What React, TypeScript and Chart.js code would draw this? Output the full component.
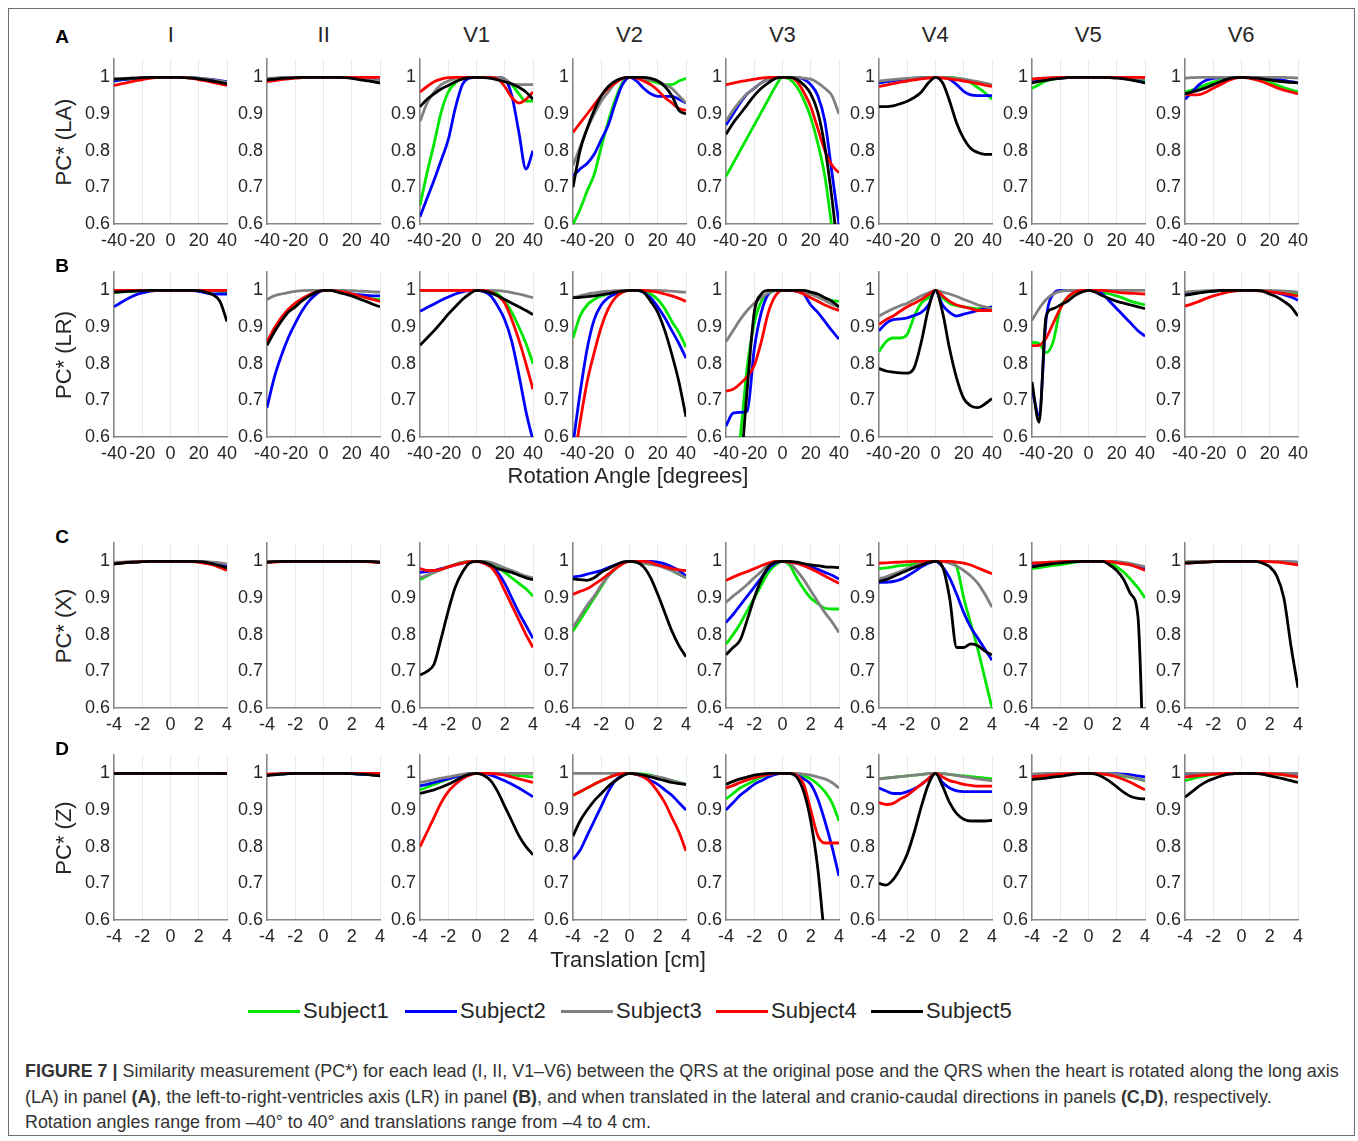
import React, { useEffect, useRef } from "react";
import { Chart, registerables } from "chart.js";

Chart.register(...registerables);

const FONT = "'Liberation Sans', Arial, Helvetica, sans-serif";
Chart.defaults.font.family = FONT;

// ---------- axes / labels ----------
const rotX = [-40, -35, -30, -25, -20, -15, -10, -5, 0, 5, 10, 15, 20, 25, 30, 35, 40];
const transX = [-4, -3.5, -3, -2.5, -2, -1.5, -1, -0.5, 0, 0.5, 1, 1.5, 2, 2.5, 3, 3.5, 4];
const rotTicks = [-40, -20, 0, 20, 40];
const transTicks = [-4, -2, 0, 2, 4];
const yTicks = [0.6, 0.7, 0.8, 0.9, 1];
const leads = ["I", "II", "V1", "V2", "V3", "V4", "V5", "V6"];
const subjects = ["Subject1", "Subject2", "Subject3", "Subject4", "Subject5"];
const colors = ["#00e600", "#0000ff", "#808080", "#ff0000", "#000000"];

// ---------- Panel A: rotation about long axis (LA) ----------
// each: [Subject1, Subject2, Subject3, Subject4, Subject5], values at rotX
const A_I = [
  [0.990, 0.993, 0.995, 0.997, 0.998, 0.999, 1, 1, 1, 1, 1, 0.999, 0.997, 0.995, 0.992, 0.989, 0.985],
  [0.990, 0.993, 0.995, 0.997, 0.998, 0.999, 1, 1, 1, 1, 1, 0.999, 0.998, 0.996, 0.994, 0.991, 0.988],
  [0.995, 0.996, 0.997, 0.998, 0.999, 1, 1, 1, 1, 1, 1, 0.999, 0.998, 0.996, 0.993, 0.990, 0.987],
  [0.978, 0.982, 0.986, 0.990, 0.994, 0.997, 0.999, 1, 1, 1, 0.999, 0.997, 0.994, 0.990, 0.986, 0.982, 0.978],
  [0.995, 0.996, 0.997, 0.998, 0.999, 1, 1, 1, 1, 1, 0.999, 0.998, 0.996, 0.993, 0.990, 0.986, 0.982],
];
const A_II = [
  [0.995, 0.997, 0.998, 0.999, 1, 1, 1, 1, 1, 1, 1, 1, 0.999, 0.998, 0.996, 0.994, 0.990],
  [0.995, 0.997, 0.998, 0.999, 1, 1, 1, 1, 1, 1, 1, 1, 0.999, 0.998, 0.997, 0.995, 0.990],
  [0.997, 0.998, 0.999, 1, 1, 1, 1, 1, 1, 1, 1, 1, 0.999, 0.998, 0.996, 0.993, 0.990],
  [0.988, 0.991, 0.994, 0.996, 0.998, 0.999, 1, 1, 1, 1, 1, 1, 1, 1, 1, 1, 1],
  [0.993, 0.995, 0.997, 0.998, 0.999, 1, 1, 1, 1, 1, 1, 0.999, 0.997, 0.994, 0.991, 0.988, 0.984],
];
const A_V1 = [
  [0.65, 0.74, 0.82, 0.905, 0.96, 0.985, 0.997, 1, 1, 1, 1, 1, 0.995, 0.98, 0.955, 0.935, 0.935],
  [0.62, 0.67, 0.72, 0.774, 0.83, 0.916, 0.98, 0.998, 1, 1, 1, 1, 0.995, 0.95, 0.85, 0.75, 0.80],
  [0.88, 0.93, 0.96, 0.98, 0.99, 0.997, 1, 1, 1, 1, 1, 1, 0.995, 0.982, 0.98, 0.98, 0.98],
  [0.96, 0.975, 0.988, 0.995, 0.999, 1, 1, 1, 1, 1, 1, 0.995, 0.975, 0.945, 0.93, 0.94, 0.96],
  [0.92, 0.94, 0.955, 0.968, 0.978, 0.988, 0.995, 0.999, 1, 0.999, 0.997, 0.993, 0.988, 0.982, 0.973, 0.96, 0.94],
];
const A_V2 = [
  [0.60, 0.64, 0.69, 0.735, 0.81, 0.88, 0.94, 0.985, 1, 1, 0.995, 0.99, 0.985, 0.98, 0.98, 0.99, 0.997],
  [0.73, 0.75, 0.765, 0.79, 0.83, 0.87, 0.93, 0.98, 1, 0.99, 0.97, 0.955, 0.948, 0.948, 0.948, 0.94, 0.93],
  [0.76, 0.81, 0.86, 0.90, 0.935, 0.96, 0.985, 0.997, 1, 1, 0.997, 0.993, 0.99, 0.98, 0.97, 0.95, 0.93],
  [0.85, 0.875, 0.90, 0.925, 0.95, 0.97, 0.985, 0.997, 1, 0.998, 0.99, 0.98, 0.965, 0.945, 0.93, 0.915, 0.91],
  [0.70, 0.80, 0.86, 0.91, 0.95, 0.975, 0.99, 0.998, 1, 1, 1, 0.997, 0.99, 0.975, 0.95, 0.91, 0.90],
];
const A_V3 = [
  [0.73, 0.765, 0.80, 0.835, 0.87, 0.905, 0.94, 0.975, 1, 0.995, 0.975, 0.94, 0.89, 0.82, 0.73, 0.59, 0.45],
  [0.87, 0.90, 0.93, 0.955, 0.97, 0.985, 0.995, 1, 1, 1, 1, 0.995, 0.98, 0.95, 0.88, 0.74, 0.60],
  [0.88, 0.91, 0.935, 0.955, 0.97, 0.985, 0.995, 1, 1, 1, 1, 0.998, 0.995, 0.985, 0.97, 0.95, 0.90],
  [0.98, 0.984, 0.988, 0.992, 0.995, 0.998, 1, 1, 1, 1, 0.99, 0.96, 0.92, 0.86, 0.80, 0.76, 0.74],
  [0.845, 0.875, 0.90, 0.925, 0.95, 0.97, 0.985, 0.997, 1, 1, 0.995, 0.98, 0.955, 0.905, 0.81, 0.67, 0.50],
];
const A_V4 = [
  [0.985, 0.988, 0.991, 0.994, 0.996, 0.998, 0.999, 1, 1, 1, 1, 0.998, 0.994, 0.985, 0.972, 0.958, 0.94],
  [0.985, 0.988, 0.991, 0.994, 0.996, 0.998, 0.999, 1, 1, 1, 0.995, 0.98, 0.962, 0.952, 0.95, 0.95, 0.95],
  [0.99, 0.992, 0.994, 0.996, 0.997, 0.998, 0.999, 1, 1, 1, 0.999, 0.997, 0.995, 0.992, 0.988, 0.984, 0.98],
  [0.975, 0.979, 0.983, 0.987, 0.99, 0.993, 0.996, 0.998, 1, 0.998, 0.996, 0.993, 0.99, 0.987, 0.983, 0.979, 0.975],
  [0.92, 0.92, 0.922, 0.928, 0.935, 0.945, 0.96, 0.985, 1, 0.985, 0.935, 0.875, 0.833, 0.806, 0.795, 0.79, 0.79],
];
const A_V5 = [
  [0.97, 0.98, 0.99, 0.995, 0.998, 1, 1, 1, 1, 1, 1, 1, 0.999, 0.998, 0.996, 0.993, 0.99],
  [0.99, 0.993, 0.995, 0.997, 0.998, 0.999, 1, 1, 1, 1, 1, 1, 0.999, 0.997, 0.994, 0.99, 0.985],
  [0.995, 0.997, 0.998, 0.999, 1, 1, 1, 1, 1, 1, 1, 1, 1, 0.999, 0.998, 0.997, 0.996],
  [0.995, 0.997, 0.998, 0.999, 1, 1, 1, 1, 1, 1, 1, 1, 1, 1, 1, 1, 1],
  [0.985, 0.989, 0.992, 0.995, 0.997, 0.999, 1, 1, 1, 1, 1, 0.999, 0.998, 0.996, 0.993, 0.989, 0.985],
];
const A_V6 = [
  [0.96, 0.965, 0.972, 0.98, 0.987, 0.992, 0.996, 0.999, 1, 0.999, 0.996, 0.992, 0.986, 0.979, 0.972, 0.966, 0.96],
  [0.94, 0.96, 0.98, 0.992, 0.997, 0.999, 1, 1, 1, 1, 1, 0.999, 0.997, 0.995, 0.992, 0.988, 0.985],
  [0.998, 0.999, 1, 1, 1, 1, 1, 1, 1, 1, 1, 1, 1, 1, 1, 0.999, 0.998],
  [0.955, 0.952, 0.953, 0.96, 0.97, 0.98, 0.99, 0.997, 1, 0.998, 0.994, 0.988, 0.98, 0.972, 0.965, 0.96, 0.955],
  [0.955, 0.96, 0.965, 0.972, 0.98, 0.988, 0.995, 0.999, 1, 0.999, 0.998, 0.996, 0.993, 0.99, 0.988, 0.986, 0.985],
];

// ---------- Panel B: rotation about left-to-right axis (LR) ----------
const B_I = [
  [0.995, 0.996, 0.997, 0.998, 0.999, 1, 1, 1, 1, 1, 1, 1, 1, 1, 0.999, 0.997, 0.995],
  [0.955, 0.967, 0.978, 0.987, 0.993, 0.997, 0.999, 1, 1, 1, 1, 0.999, 0.997, 0.993, 0.99, 0.99, 0.99],
  [0.999, 1, 1, 1, 1, 1, 1, 1, 1, 1, 1, 1, 1, 1, 1, 1, 0.999],
  [1, 1, 1, 1, 1, 1, 1, 1, 1, 1, 1, 1, 1, 1, 1, 1, 1],
  [0.995, 0.996, 0.997, 0.998, 0.999, 1, 1, 1, 1, 1, 1, 1, 0.999, 0.995, 0.988, 0.97, 0.915],
];
const B_II = [
  [0.855, 0.89, 0.92, 0.945, 0.962, 0.976, 0.987, 0.995, 1, 1, 0.998, 0.995, 0.99, 0.985, 0.98, 0.977, 0.975],
  [0.68, 0.76, 0.82, 0.87, 0.91, 0.945, 0.972, 0.99, 1, 1, 0.998, 0.995, 0.99, 0.988, 0.986, 0.985, 0.985],
  [0.975, 0.985, 0.99, 0.994, 0.997, 0.999, 1, 1, 1, 1, 1, 1, 0.999, 0.998, 0.997, 0.996, 0.995],
  [0.86, 0.895, 0.925, 0.948, 0.965, 0.978, 0.988, 0.995, 1, 1, 0.998, 0.995, 0.99, 0.985, 0.98, 0.975, 0.97],
  [0.85, 0.885, 0.915, 0.94, 0.955, 0.972, 0.985, 0.995, 1, 1, 0.995, 0.99, 0.985, 0.977, 0.97, 0.962, 0.955],
];
const B_V1 = [
  [1, 1, 1, 1, 1, 1, 1, 1, 1, 1, 0.997, 0.99, 0.97, 0.94, 0.90, 0.855, 0.80],
  [0.943, 0.953, 0.963, 0.973, 0.982, 0.99, 0.996, 0.999, 1, 0.997, 0.985, 0.957, 0.92, 0.86, 0.77, 0.67, 0.59],
  [1, 1, 1, 1, 1, 1, 1, 1, 1, 1, 1, 0.999, 0.997, 0.994, 0.99, 0.985, 0.98],
  [1, 1, 1, 1, 1, 1, 1, 1, 1, 1, 0.995, 0.985, 0.965, 0.92, 0.865, 0.80, 0.73],
  [0.85, 0.87, 0.89, 0.912, 0.935, 0.955, 0.975, 0.99, 1, 0.998, 0.993, 0.985, 0.975, 0.965, 0.955, 0.945, 0.934],
];
const B_V2 = [
  [0.87, 0.93, 0.96, 0.975, 0.985, 0.99, 0.995, 0.999, 1, 1, 1, 0.99, 0.975, 0.95, 0.915, 0.885, 0.845],
  [0.58, 0.72, 0.84, 0.92, 0.96, 0.98, 0.99, 0.998, 1, 1, 0.995, 0.98, 0.955, 0.925, 0.89, 0.855, 0.815],
  [0.98, 0.985, 0.99, 0.993, 0.996, 0.998, 0.999, 1, 1, 1, 1, 1, 1, 0.999, 0.998, 0.996, 0.995],
  [0.52, 0.64, 0.75, 0.83, 0.90, 0.95, 0.98, 0.995, 1, 1, 1, 0.998, 0.995, 0.99, 0.985, 0.978, 0.97],
  [0.98, 0.981, 0.983, 0.985, 0.988, 0.991, 0.995, 0.998, 1, 1, 0.995, 0.97, 0.94, 0.89, 0.825, 0.75, 0.655],
];
const B_V3 = [
  [0.40, 0.50, 0.60, 0.79, 0.91, 0.97, 0.99, 1, 1, 1, 1, 0.998, 0.99, 0.985, 0.978, 0.972, 0.97],
  [0.63, 0.665, 0.667, 0.67, 0.84, 0.94, 0.99, 1, 1, 1, 0.998, 0.99, 0.96, 0.94, 0.915, 0.89, 0.867],
  [0.86, 0.89, 0.92, 0.945, 0.965, 0.98, 0.993, 0.999, 1, 1, 1, 0.997, 0.99, 0.982, 0.972, 0.962, 0.955],
  [0.725, 0.73, 0.745, 0.765, 0.795, 0.86, 0.94, 0.985, 1, 1, 0.997, 0.99, 0.98, 0.97, 0.96, 0.952, 0.945],
  [0.30, 0.40, 0.50, 0.73, 0.94, 0.99, 1, 1, 1, 1, 1, 1, 0.995, 0.99, 0.98, 0.97, 0.955],
];
const B_V4 = [
  [0.833, 0.86, 0.87, 0.87, 0.88, 0.93, 0.965, 0.98, 1, 0.98, 0.965, 0.958, 0.955, 0.952, 0.95, 0.952, 0.955],
  [0.89, 0.91, 0.92, 0.922, 0.925, 0.932, 0.94, 0.96, 1, 0.96, 0.94, 0.93, 0.935, 0.94, 0.945, 0.95, 0.955],
  [0.93, 0.94, 0.95, 0.958, 0.965, 0.975, 0.985, 0.993, 1, 0.995, 0.99, 0.983, 0.975, 0.968, 0.96, 0.955, 0.95],
  [0.907, 0.92, 0.93, 0.943, 0.955, 0.965, 0.975, 0.988, 1, 0.985, 0.97, 0.96, 0.955, 0.95, 0.945, 0.945, 0.945],
  [0.787, 0.78, 0.777, 0.775, 0.774, 0.79, 0.86, 0.95, 1, 0.94, 0.84, 0.76, 0.705, 0.685, 0.68, 0.69, 0.705],
];
const B_V5 = [
  [0.858, 0.855, 0.83, 0.86, 0.95, 0.98, 0.995, 1, 1, 1, 0.995, 0.99, 0.985, 0.978, 0.97, 0.965, 0.96],
  [0.73, 0.66, 0.92, 0.99, 1, 1, 1, 1, 1, 1, 0.99, 0.97, 0.95, 0.93, 0.91, 0.89, 0.875],
  [0.918, 0.95, 0.975, 0.99, 0.997, 1, 1, 1, 1, 1, 1, 1, 1, 1, 1, 1, 1],
  [0.849, 0.85, 0.87, 0.91, 0.95, 0.98, 0.995, 1, 1, 1, 1, 0.998, 0.995, 0.993, 0.992, 0.991, 0.99],
  [0.75, 0.64, 0.93, 0.95, 0.96, 0.97, 0.985, 0.995, 1, 0.995, 0.985, 0.977, 0.97, 0.965, 0.96, 0.955, 0.95],
];
const B_V6 = [
  [0.99, 0.992, 0.994, 0.996, 0.998, 0.999, 1, 1, 1, 1, 1, 0.999, 0.998, 0.996, 0.994, 0.992, 0.99],
  [0.99, 0.993, 0.995, 0.997, 0.998, 0.999, 1, 1, 1, 1, 1, 0.999, 0.997, 0.993, 0.988, 0.982, 0.973],
  [0.995, 0.997, 0.998, 0.999, 1, 1, 1, 1, 1, 1, 1, 1, 1, 0.999, 0.998, 0.997, 0.995],
  [0.957, 0.963, 0.97, 0.978, 0.985, 0.99, 0.995, 0.998, 1, 1, 0.999, 0.998, 0.996, 0.994, 0.991, 0.988, 0.985],
  [0.986, 0.99, 0.993, 0.996, 0.998, 1, 1, 1, 1, 1, 1, 0.998, 0.99, 0.982, 0.97, 0.955, 0.93],
];

// ---------- Panel C: lateral translation (X), values at transX ----------
const C_I = [
  [0.995, 0.996, 0.997, 0.998, 0.999, 1, 1, 1, 1, 1, 1, 1, 0.999, 0.997, 0.994, 0.99, 0.985],
  [0.995, 0.996, 0.997, 0.998, 0.999, 1, 1, 1, 1, 1, 1, 1, 0.999, 0.998, 0.996, 0.993, 0.99],
  [0.997, 0.998, 0.999, 1, 1, 1, 1, 1, 1, 1, 1, 1, 1, 0.999, 0.998, 0.996, 0.993],
  [0.993, 0.995, 0.997, 0.998, 0.999, 1, 1, 1, 1, 1, 1, 0.999, 0.997, 0.994, 0.99, 0.983, 0.975],
  [0.993, 0.995, 0.997, 0.998, 0.999, 1, 1, 1, 1, 1, 1, 1, 0.999, 0.997, 0.993, 0.988, 0.982],
];
const C_II = [
  [0.998, 0.999, 1, 1, 1, 1, 1, 1, 1, 1, 1, 1, 1, 1, 1, 0.999, 0.998],
  [0.998, 0.999, 1, 1, 1, 1, 1, 1, 1, 1, 1, 1, 1, 1, 1, 0.999, 0.998],
  [1, 1, 1, 1, 1, 1, 1, 1, 1, 1, 1, 1, 1, 1, 1, 1, 1],
  [0.997, 0.998, 0.999, 1, 1, 1, 1, 1, 1, 1, 1, 1, 1, 1, 0.999, 0.998, 0.997],
  [0.998, 0.999, 1, 1, 1, 1, 1, 1, 1, 1, 1, 1, 1, 1, 1, 0.999, 0.997],
];
const C_V1 = [
  [0.95, 0.96, 0.97, 0.978, 0.985, 0.992, 0.997, 1, 1, 1, 0.995, 0.985, 0.97, 0.955, 0.94, 0.925, 0.905],
  [0.97, 0.972, 0.975, 0.98, 0.985, 0.99, 0.995, 0.999, 1, 0.998, 0.99, 0.97, 0.94, 0.90, 0.86, 0.825, 0.79],
  [0.955, 0.962, 0.97, 0.978, 0.985, 0.992, 0.997, 1, 1, 1, 0.997, 0.99, 0.982, 0.975, 0.967, 0.96, 0.955],
  [0.98, 0.975, 0.975, 0.978, 0.985, 0.99, 0.995, 0.999, 1, 0.995, 0.985, 0.96, 0.92, 0.88, 0.84, 0.80, 0.765],
  [0.69, 0.70, 0.72, 0.79, 0.865, 0.93, 0.97, 0.995, 1, 0.998, 0.99, 0.98, 0.975, 0.97, 0.962, 0.955, 0.95],
];
const C_V2 = [
  [0.81, 0.84, 0.87, 0.90, 0.93, 0.96, 0.98, 0.995, 1, 0.998, 0.995, 0.993, 0.99, 0.985, 0.975, 0.965, 0.955],
  [0.957, 0.96, 0.965, 0.97, 0.975, 0.983, 0.99, 0.997, 1, 1, 1, 1, 0.998, 0.993, 0.985, 0.975, 0.96],
  [0.82, 0.85, 0.88, 0.905, 0.935, 0.96, 0.98, 0.995, 1, 0.998, 0.995, 0.992, 0.988, 0.982, 0.975, 0.965, 0.955],
  [0.91, 0.918, 0.925, 0.937, 0.95, 0.965, 0.98, 0.993, 1, 1, 1, 0.997, 0.99, 0.985, 0.98, 0.977, 0.975],
  [0.952, 0.95, 0.948, 0.955, 0.97, 0.98, 0.99, 0.998, 1, 0.998, 0.985, 0.955, 0.91, 0.86, 0.81, 0.77, 0.74],
];
const C_V3 = [
  [0.774, 0.80, 0.83, 0.865, 0.90, 0.935, 0.97, 0.99, 1, 0.99, 0.955, 0.925, 0.90, 0.885, 0.872, 0.87, 0.87],
  [0.833, 0.855, 0.88, 0.905, 0.93, 0.955, 0.98, 0.995, 1, 0.998, 0.995, 0.99, 0.985, 0.978, 0.97, 0.962, 0.952],
  [0.888, 0.905, 0.92, 0.937, 0.955, 0.972, 0.99, 0.998, 1, 0.995, 0.975, 0.95, 0.92, 0.89, 0.86, 0.835, 0.806],
  [0.948, 0.957, 0.965, 0.972, 0.98, 0.988, 0.995, 1, 1, 0.998, 0.995, 0.988, 0.98, 0.97, 0.96, 0.95, 0.94],
  [0.745, 0.765, 0.785, 0.84, 0.90, 0.95, 0.985, 0.998, 1, 1, 0.998, 0.994, 0.99, 0.988, 0.985, 0.984, 0.983],
];
const C_V4 = [
  [0.98, 0.982, 0.985, 0.988, 0.99, 0.993, 0.996, 0.999, 1, 1, 1, 0.985, 0.90, 0.83, 0.76, 0.68, 0.60],
  [0.943, 0.943, 0.945, 0.95, 0.96, 0.972, 0.985, 0.995, 1, 0.985, 0.955, 0.91, 0.86, 0.82, 0.79, 0.76, 0.73],
  [0.952, 0.958, 0.965, 0.972, 0.98, 0.987, 0.993, 0.998, 1, 0.999, 0.995, 0.987, 0.975, 0.96, 0.94, 0.91, 0.875],
  [0.995, 0.996, 0.997, 0.998, 0.999, 1, 1, 1, 1, 1, 1, 0.998, 0.995, 0.99, 0.982, 0.974, 0.966],
  [0.945, 0.95, 0.958, 0.967, 0.975, 0.983, 0.99, 0.997, 1, 0.985, 0.90, 0.765, 0.765, 0.775, 0.77, 0.755, 0.745],
];
const C_V5 = [
  [0.98, 0.983, 0.986, 0.989, 0.991, 0.994, 0.997, 0.999, 1, 1, 1, 0.995, 0.985, 0.97, 0.95, 0.928, 0.90],
  [0.99, 0.992, 0.994, 0.996, 0.998, 0.999, 1, 1, 1, 1, 1, 1, 0.998, 0.995, 0.99, 0.985, 0.98],
  [0.995, 0.996, 0.997, 0.998, 0.999, 1, 1, 1, 1, 1, 1, 1, 0.999, 0.997, 0.994, 0.99, 0.985],
  [0.995, 0.996, 0.997, 0.998, 0.999, 1, 1, 1, 1, 1, 1, 0.999, 0.996, 0.993, 0.99, 0.983, 0.975],
  [0.985, 0.988, 0.991, 0.994, 0.996, 0.998, 0.999, 1, 1, 1, 1, 0.99, 0.975, 0.95, 0.91, 0.85, 0.30],
];
const C_V6 = [
  [0.998, 0.999, 1, 1, 1, 1, 1, 1, 1, 1, 1, 1, 1, 0.999, 0.998, 0.997, 0.996],
  [0.997, 0.998, 0.999, 1, 1, 1, 1, 1, 1, 1, 1, 1, 1, 1, 0.999, 0.998, 0.997],
  [0.998, 0.999, 1, 1, 1, 1, 1, 1, 1, 1, 1, 1, 1, 1, 1, 0.999, 0.998],
  [0.995, 0.996, 0.997, 0.998, 0.999, 1, 1, 1, 1, 1, 1, 1, 0.999, 0.998, 0.996, 0.993, 0.99],
  [0.995, 0.996, 0.997, 0.998, 0.999, 1, 1, 1, 1, 1, 1, 0.995, 0.985, 0.96, 0.90, 0.77, 0.655],
];

// ---------- Panel D: cranio-caudal translation (Z), values at transX ----------
const D_I = [
  [1, 1, 1, 1, 1, 1, 1, 1, 1, 1, 1, 1, 1, 1, 1, 1, 1],
  [1, 1, 1, 1, 1, 1, 1, 1, 1, 1, 1, 1, 1, 1, 1, 1, 1],
  [1, 1, 1, 1, 1, 1, 1, 1, 1, 1, 1, 1, 1, 1, 1, 1, 1],
  [1, 1, 1, 1, 1, 1, 1, 1, 1, 1, 1, 1, 1, 1, 1, 1, 1],
  [0.999, 1, 1, 1, 1, 1, 1, 1, 1, 1, 1, 1, 1, 1, 1, 1, 0.999],
];
const D_II = [
  [0.995, 0.997, 0.998, 0.999, 1, 1, 1, 1, 1, 1, 1, 1, 0.999, 0.998, 0.997, 0.996, 0.995],
  [0.995, 0.997, 0.998, 0.999, 1, 1, 1, 1, 1, 1, 1, 1, 0.999, 0.998, 0.997, 0.996, 0.995],
  [0.998, 0.999, 1, 1, 1, 1, 1, 1, 1, 1, 1, 1, 1, 1, 1, 0.999, 0.998],
  [0.997, 0.998, 0.999, 1, 1, 1, 1, 1, 1, 1, 1, 1, 1, 1, 1, 1, 1],
  [0.994, 0.996, 0.998, 0.999, 1, 1, 1, 1, 1, 1, 1, 1, 0.999, 0.998, 0.997, 0.995, 0.993],
];
const D_V1 = [
  [0.955, 0.962, 0.97, 0.977, 0.984, 0.99, 0.995, 0.999, 1, 1, 1, 0.999, 0.998, 0.996, 0.994, 0.992, 0.99],
  [0.966, 0.97, 0.975, 0.98, 0.985, 0.99, 0.995, 0.999, 1, 0.999, 0.995, 0.988, 0.98, 0.97, 0.96, 0.948, 0.936],
  [0.975, 0.979, 0.983, 0.987, 0.99, 0.994, 0.997, 0.999, 1, 1, 1, 1, 1, 1, 1, 1, 1],
  [0.80, 0.84, 0.88, 0.92, 0.95, 0.97, 0.985, 0.995, 1, 1, 1, 0.998, 0.995, 0.99, 0.985, 0.98, 0.975],
  [0.945, 0.95, 0.955, 0.962, 0.97, 0.98, 0.99, 0.997, 1, 0.995, 0.98, 0.95, 0.91, 0.87, 0.83, 0.80, 0.778],
];
const D_V2 = [
  [0.94, 0.95, 0.96, 0.97, 0.98, 0.988, 0.995, 0.999, 1, 1, 0.998, 0.995, 0.99, 0.985, 0.98, 0.975, 0.97],
  [0.765, 0.79, 0.83, 0.87, 0.91, 0.95, 0.98, 0.995, 1, 0.997, 0.99, 0.98, 0.97, 0.955, 0.94, 0.92, 0.90],
  [1, 1, 1, 1, 1, 1, 1, 1, 1, 1, 0.995, 0.993, 0.99, 0.986, 0.98, 0.975, 0.97],
  [0.94, 0.95, 0.96, 0.97, 0.98, 0.988, 0.995, 0.999, 1, 0.997, 0.99, 0.975, 0.95, 0.92, 0.88, 0.84, 0.788],
  [0.829, 0.87, 0.90, 0.925, 0.945, 0.965, 0.98, 0.993, 1, 0.998, 0.995, 0.99, 0.985, 0.98, 0.975, 0.972, 0.97],
];
const D_V3 = [
  [0.93, 0.945, 0.96, 0.97, 0.98, 0.99, 0.995, 0.999, 1, 1, 0.998, 0.993, 0.985, 0.97, 0.95, 0.92, 0.87],
  [0.90, 0.92, 0.94, 0.955, 0.97, 0.98, 0.99, 0.997, 1, 1, 0.995, 0.985, 0.97, 0.93, 0.87, 0.80, 0.72],
  [0.96, 0.967, 0.975, 0.982, 0.988, 0.993, 0.997, 0.999, 1, 1, 1, 0.998, 0.995, 0.99, 0.985, 0.975, 0.96],
  [0.96, 0.967, 0.975, 0.982, 0.988, 0.993, 0.997, 0.999, 1, 1, 0.995, 0.97, 0.90, 0.83, 0.81, 0.81, 0.81],
  [0.97, 0.978, 0.985, 0.99, 0.995, 0.998, 1, 1, 1, 1, 0.99, 0.95, 0.87, 0.74, 0.55, 0.45, 0.35],
];
const D_V4 = [
  [0.985, 0.987, 0.989, 0.991, 0.993, 0.995, 0.997, 0.999, 1, 0.999, 0.997, 0.995, 0.993, 0.991, 0.989, 0.987, 0.985],
  [0.96, 0.952, 0.945, 0.945, 0.95, 0.958, 0.97, 0.985, 1, 0.975, 0.96, 0.952, 0.95, 0.95, 0.95, 0.95, 0.95],
  [0.985, 0.987, 0.989, 0.991, 0.993, 0.995, 0.997, 0.999, 1, 0.999, 0.997, 0.994, 0.991, 0.988, 0.985, 0.982, 0.98],
  [0.92, 0.915, 0.918, 0.93, 0.94, 0.955, 0.97, 0.985, 1, 0.99, 0.98, 0.975, 0.97, 0.967, 0.965, 0.965, 0.965],
  [0.70, 0.695, 0.71, 0.74, 0.78, 0.84, 0.91, 0.97, 1, 0.965, 0.92, 0.89, 0.875, 0.87, 0.87, 0.87, 0.872],
];
const D_V5 = [
  [0.985, 0.988, 0.99, 0.993, 0.995, 0.997, 0.999, 1, 1, 1, 0.999, 0.997, 0.995, 0.992, 0.989, 0.985, 0.98],
  [0.995, 0.996, 0.997, 0.998, 0.999, 1, 1, 1, 1, 1, 1, 1, 0.999, 0.998, 0.996, 0.993, 0.99],
  [0.998, 0.999, 1, 1, 1, 1, 1, 1, 1, 1, 1, 0.999, 0.997, 0.994, 0.99, 0.985, 0.98],
  [0.99, 0.992, 0.994, 0.996, 0.998, 0.999, 1, 1, 1, 1, 0.998, 0.995, 0.99, 0.983, 0.975, 0.965, 0.955],
  [0.983, 0.985, 0.987, 0.99, 0.992, 0.995, 0.998, 1, 1, 0.998, 0.99, 0.978, 0.963, 0.948, 0.937, 0.932, 0.93],
];
const D_V6 = [
  [0.98, 0.985, 0.99, 0.994, 0.997, 0.999, 1, 1, 1, 1, 1, 1, 0.999, 0.998, 0.996, 0.993, 0.99],
  [0.998, 0.999, 1, 1, 1, 1, 1, 1, 1, 1, 1, 1, 1, 1, 1, 1, 1],
  [1, 1, 1, 1, 1, 1, 1, 1, 1, 1, 1, 1, 1, 1, 1, 1, 1],
  [0.99, 0.992, 0.994, 0.996, 0.998, 0.999, 1, 1, 1, 1, 1, 1, 0.999, 0.998, 0.996, 0.993, 0.99],
  [0.935, 0.95, 0.965, 0.977, 0.985, 0.992, 0.997, 0.999, 1, 1, 0.999, 0.997, 0.993, 0.989, 0.985, 0.98, 0.975],
];

const rowsData = [
  { letter: "A", ylabel: "PC* (LA)", xs: rotX, ticks: rotTicks, panels: [A_I, A_II, A_V1, A_V2, A_V3, A_V4, A_V5, A_V6] },
  { letter: "B", ylabel: "PC* (LR)", xs: rotX, ticks: rotTicks, panels: [B_I, B_II, B_V1, B_V2, B_V3, B_V4, B_V5, B_V6] },
  { letter: "C", ylabel: "PC* (X)", xs: transX, ticks: transTicks, panels: [C_I, C_II, C_V1, C_V2, C_V3, C_V4, C_V5, C_V6] },
  { letter: "D", ylabel: "PC* (Z)", xs: transX, ticks: transTicks, panels: [D_I, D_II, D_V1, D_V2, D_V3, D_V4, D_V5, D_V6] },
];

// ---------- layout ----------
const PLOT_W = 113;
const PLOT_H = 165;
const AX_W = 50;
const PAD_T = 16;
const PAD_R = 18;
const AX_H = 32;
const CW = AX_W + PLOT_W + PAD_R;
const CH = PAD_T + PLOT_H + AX_H;
const colLeft = (i: number) => 114.3 + 152.9 * i;
const rowTops = [59, 272, 543, 755];
const TICK_COLOR = "#262626";
const AXIS_COLOR = "#858585";

function Panel({ left, top, xs, xTicks, series }: { left: number; top: number; xs: number[]; xTicks: number[]; series: number[][] }) {
  const ref = useRef<HTMLCanvasElement>(null);
  useEffect(() => {
    const chart = new Chart(ref.current as HTMLCanvasElement, {
      type: "line",
      data: {
        datasets: series.map((vals, i) => ({
          label: subjects[i],
          data: vals.map((v, j) => ({ x: xs[j], y: v })),
          borderColor: colors[i],
          backgroundColor: colors[i],
          borderWidth: 2.8,
          pointRadius: 0,
          cubicInterpolationMode: "monotone",
          fill: false,
          order: series.length - 1 - i,
        })),
      },
      options: {
        animation: false,
        responsive: false,
        events: [],
        layout: { padding: { left: 0, top: PAD_T, right: PAD_R, bottom: 0 } },
        plugins: { legend: { display: false }, tooltip: { enabled: false }, title: { display: false } },
        scales: {
          x: {
            type: "linear",
            min: xTicks[0],
            max: xTicks[xTicks.length - 1],
            afterBuildTicks: (s: any) => {
              s.ticks = xTicks.map((v) => ({ value: v }));
            },
            afterFit: (s: any) => {
              s.height = AX_H;
            },
            ticks: {
              color: TICK_COLOR,
              font: { size: 18, family: FONT },
              padding: 6,
              maxRotation: 0,
              autoSkip: false,
              callback: (v: any) => String(v),
            },
            grid: { color: "#e9e9e9", lineWidth: 1, drawTicks: false },
            border: { color: AXIS_COLOR, width: 1.5 },
          },
          y: {
            type: "linear",
            min: 0.6,
            max: 1.05,
            afterBuildTicks: (s: any) => {
              s.ticks = yTicks.map((v) => ({ value: v }));
            },
            afterFit: (s: any) => {
              s.width = AX_W;
            },
            ticks: {
              color: TICK_COLOR,
              font: { size: 18, family: FONT },
              padding: 4,
              callback: (v: any) => (Number(v) === 1 ? "1" : Number(v).toFixed(1)),
            },
            grid: { display: false, drawTicks: false },
            border: { color: AXIS_COLOR, width: 1.5 },
          },
        },
      },
    } as any);
    return () => chart.destroy();
  }, []);
  return (
    <canvas
      ref={ref}
      width={CW}
      height={CH}
      style={{ position: "absolute", left, top, width: CW, height: CH }}
    />
  );
}

function Txt({ x, y, children, size = 22, weight = 400, rotate = false, color = "#262626" }: any) {
  return (
    <div
      style={{
        position: "absolute",
        left: x,
        top: y,
        transform: `translate(-50%, -50%)${rotate ? " rotate(-90deg)" : ""}`,
        whiteSpace: "nowrap",
        fontFamily: FONT,
        fontSize: size,
        fontWeight: weight,
        color,
        lineHeight: 1,
      }}
    >
      {children}
    </div>
  );
}

const legendStarts = [248, 405, 561, 716, 871];

export default function App() {
  return (
    <div style={{ position: "absolute", left: 0, top: 0, width: 1358, height: 1141, background: "#fff", overflow: "hidden" }}>
      <div
        style={{
          position: "absolute",
          left: 8,
          top: 8,
          width: 1347,
          height: 1128,
          border: "1.5px solid #6e6e6e",
          boxSizing: "border-box",
        }}
      />
      {leads.map((l, i) => (
        <Txt key={l} x={colLeft(i) + PLOT_W / 2} y={35} size={22}>
          {l}
        </Txt>
      ))}
      {rowsData.map((row, r) => (
        <React.Fragment key={row.letter}>
          <Txt x={62} y={rowTops[r] - (r === 0 ? 23 : 7)} size={19} weight={700} color="#000">
            {row.letter}
          </Txt>
          <Txt x={64} y={rowTops[r] + PLOT_H / 2} size={22} rotate>
            {row.ylabel}
          </Txt>
          {row.panels.map((series, i) => (
            <Panel
              key={i}
              left={Math.round(colLeft(i) - AX_W)}
              top={rowTops[r] - PAD_T}
              xs={row.xs}
              xTicks={row.ticks}
              series={series}
            />
          ))}
        </React.Fragment>
      ))}
      <Txt x={628} y={476} size={22}>
        Rotation Angle [degrees]
      </Txt>
      <Txt x={628} y={960} size={22}>
        Translation [cm]
      </Txt>
      {subjects.map((s, i) => (
        <React.Fragment key={s}>
          <div
            style={{
              position: "absolute",
              left: legendStarts[i],
              top: 1010,
              width: 52,
              height: 3,
              background: colors[i],
            }}
          />
          <div
            style={{
              position: "absolute",
              left: legendStarts[i] + 55,
              top: 1000,
              fontFamily: FONT,
              fontSize: 22,
              color: "#262626",
              lineHeight: "22px",
              whiteSpace: "nowrap",
            }}
          >
            {s}
          </div>
        </React.Fragment>
      ))}
      <div
        style={{
          position: "absolute",
          left: 25,
          top: 1059,
          fontFamily: FONT,
          fontSize: 17.9,
          lineHeight: "25.5px",
          color: "#333",
          whiteSpace: "nowrap",
        }}
      >
        <div>
          <b>FIGURE 7 |</b> Similarity measurement (PC*) for each lead (I, II, V1–V6) between the QRS at the original pose and the QRS when the heart is rotated along the long axis
        </div>
        <div>
          (LA) in panel <b>(A)</b>, the left-to-right-ventricles axis (LR) in panel <b>(B)</b>, and when translated in the lateral and cranio-caudal directions in panels <b>(C,D)</b>, respectively.
        </div>
        <div>Rotation angles range from –40° to 40° and translations range from –4 to 4 cm.</div>
      </div>
    </div>
  );
}
